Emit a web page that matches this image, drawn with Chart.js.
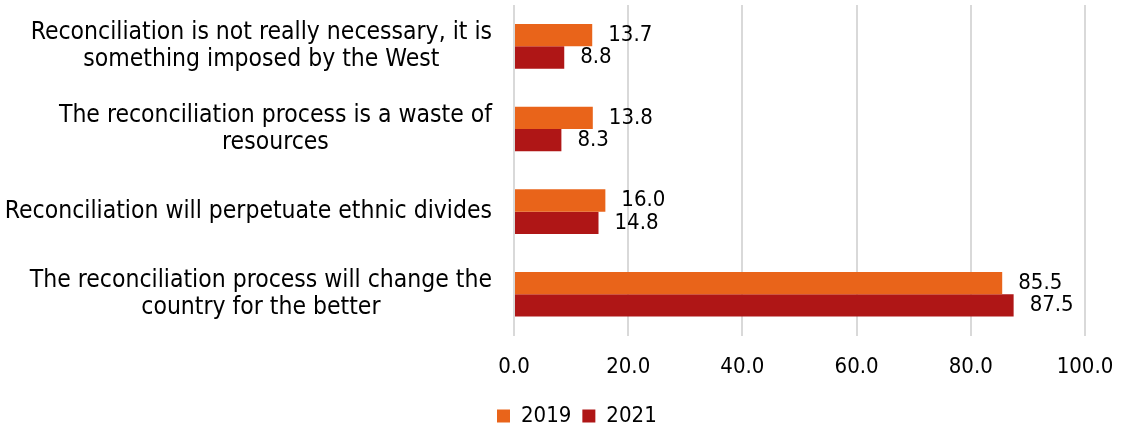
<!DOCTYPE html>
<html>
<head>
<meta charset="utf-8">
<script src="https://cdn.jsdelivr.net/npm/chart.js@4.4.1/dist/chart.umd.min.js"></script>
<style>
  html, body { margin: 0; padding: 0; background: #fff; }
  #wrap { width: 1121px; height: 432px; position: relative; }
</style>
</head>
<body>
<div id="wrap"><canvas id="reconChart"></canvas></div>
<script>
  // survey statements, one array of lines per statement
  const categories = [
    ["Reconciliation is not really necessary, it is", "something imposed by the West"],
    ["The reconciliation process is a waste of", "resources"],
    ["Reconciliation will perpetuate ethnic divides"],
    ["The reconciliation process will change the", "country for the better"]
  ];
  const seriesNames = ["2019", "2021"];
  const values2019 = [13.7, 13.8, 16.0, 85.5];
  const values2021 = [8.8, 8.3, 14.8, 87.5];
  const xTicks = [0, 20, 40, 60, 80, 100];

  const FONT = '"DejaVu Sans Condensed", "DejaVu Sans", sans-serif';
  const LABEL_SIZE = 24.5;
  const NUM_SIZE = 22;
  const ORANGE = '#E9641A';
  const DARK_RED = '#AF1616';

  // statement labels: right-aligned block, lines centered inside it
  const categoryLabels = {
    id: 'categoryLabels',
    afterDraw(chart) {
      const ctx = chart.ctx;
      const yScale = chart.scales.y;
      const right = chart.chartArea.left - 22;
      const lineH = 27;
      ctx.save();
      ctx.font = LABEL_SIZE + 'px ' + FONT;
      ctx.fillStyle = '#000';
      ctx.textAlign = 'center';
      ctx.textBaseline = 'middle';
      categories.forEach((lines, i) => {
        const y = yScale.getPixelForValue(i);
        const maxW = Math.max(...lines.map(l => ctx.measureText(l).width));
        const cx = right - maxW / 2;
        const top = y - (lines.length - 1) * lineH / 2;
        lines.forEach((l, j) => ctx.fillText(l, cx, top + j * lineH));
      });
      ctx.restore();
    }
  };

  // value printed just past the end of each bar
  const valueLabels = {
    id: 'valueLabels',
    afterDatasetsDraw(chart) {
      const ctx = chart.ctx;
      ctx.save();
      ctx.font = NUM_SIZE + 'px ' + FONT;
      ctx.fillStyle = '#000';
      ctx.textAlign = 'left';
      ctx.textBaseline = 'middle';
      chart.data.datasets.forEach((ds, di) => {
        chart.getDatasetMeta(di).data.forEach((bar, i) => {
          ctx.fillText(ds.data[i].toFixed(1), bar.x + 16, bar.y);
        });
      });
      ctx.restore();
    }
  };

  const ctx = document.getElementById('reconChart').getContext('2d');
  const reconChart = new Chart(ctx, {
    type: 'bar',
    data: {
      labels: categories,
      datasets: [
        { label: seriesNames[0], data: values2019, backgroundColor: ORANGE },
        { label: seriesNames[1], data: values2021, backgroundColor: DARK_RED }
      ]
    },
    options: {
      indexAxis: 'y',
      responsive: true,
      maintainAspectRatio: false,
      animation: false,
      layout: { padding: { left: 486, right: 36, top: 5, bottom: -5 } },
      datasets: { bar: { barPercentage: 1.0, categoryPercentage: 0.54 } },
      plugins: {
        legend: {
          position: 'bottom',
          align: 'start',
          labels: {
            boxWidth: 13,
            boxHeight: 13,
            padding: 11,
            color: '#000',
            font: { family: FONT, size: NUM_SIZE }
          }
        },
        tooltip: { enabled: false }
      },
      scales: {
        x: {
          min: 0,
          max: 100,
          afterBuildTicks: (scale) => { scale.ticks = xTicks.map(v => ({ value: v })); },
          afterFit: (scale) => { scale.paddingRight = 0; scale.height -= 4; },
          grid: { color: '#D9D9D9', lineWidth: 2, drawTicks: false },
          border: { display: false },
          ticks: {
            padding: 18,
            color: '#000',
            font: { family: FONT, size: NUM_SIZE },
            callback: (v) => Number(v).toFixed(1)
          }
        },
        y: {
          afterFit: (scale) => { scale.width = 28; },
          grid: { display: false },
          border: { display: false },
          ticks: { display: false }
        }
      }
    },
    plugins: [categoryLabels, valueLabels]
  });
</script>
</body>
</html>
